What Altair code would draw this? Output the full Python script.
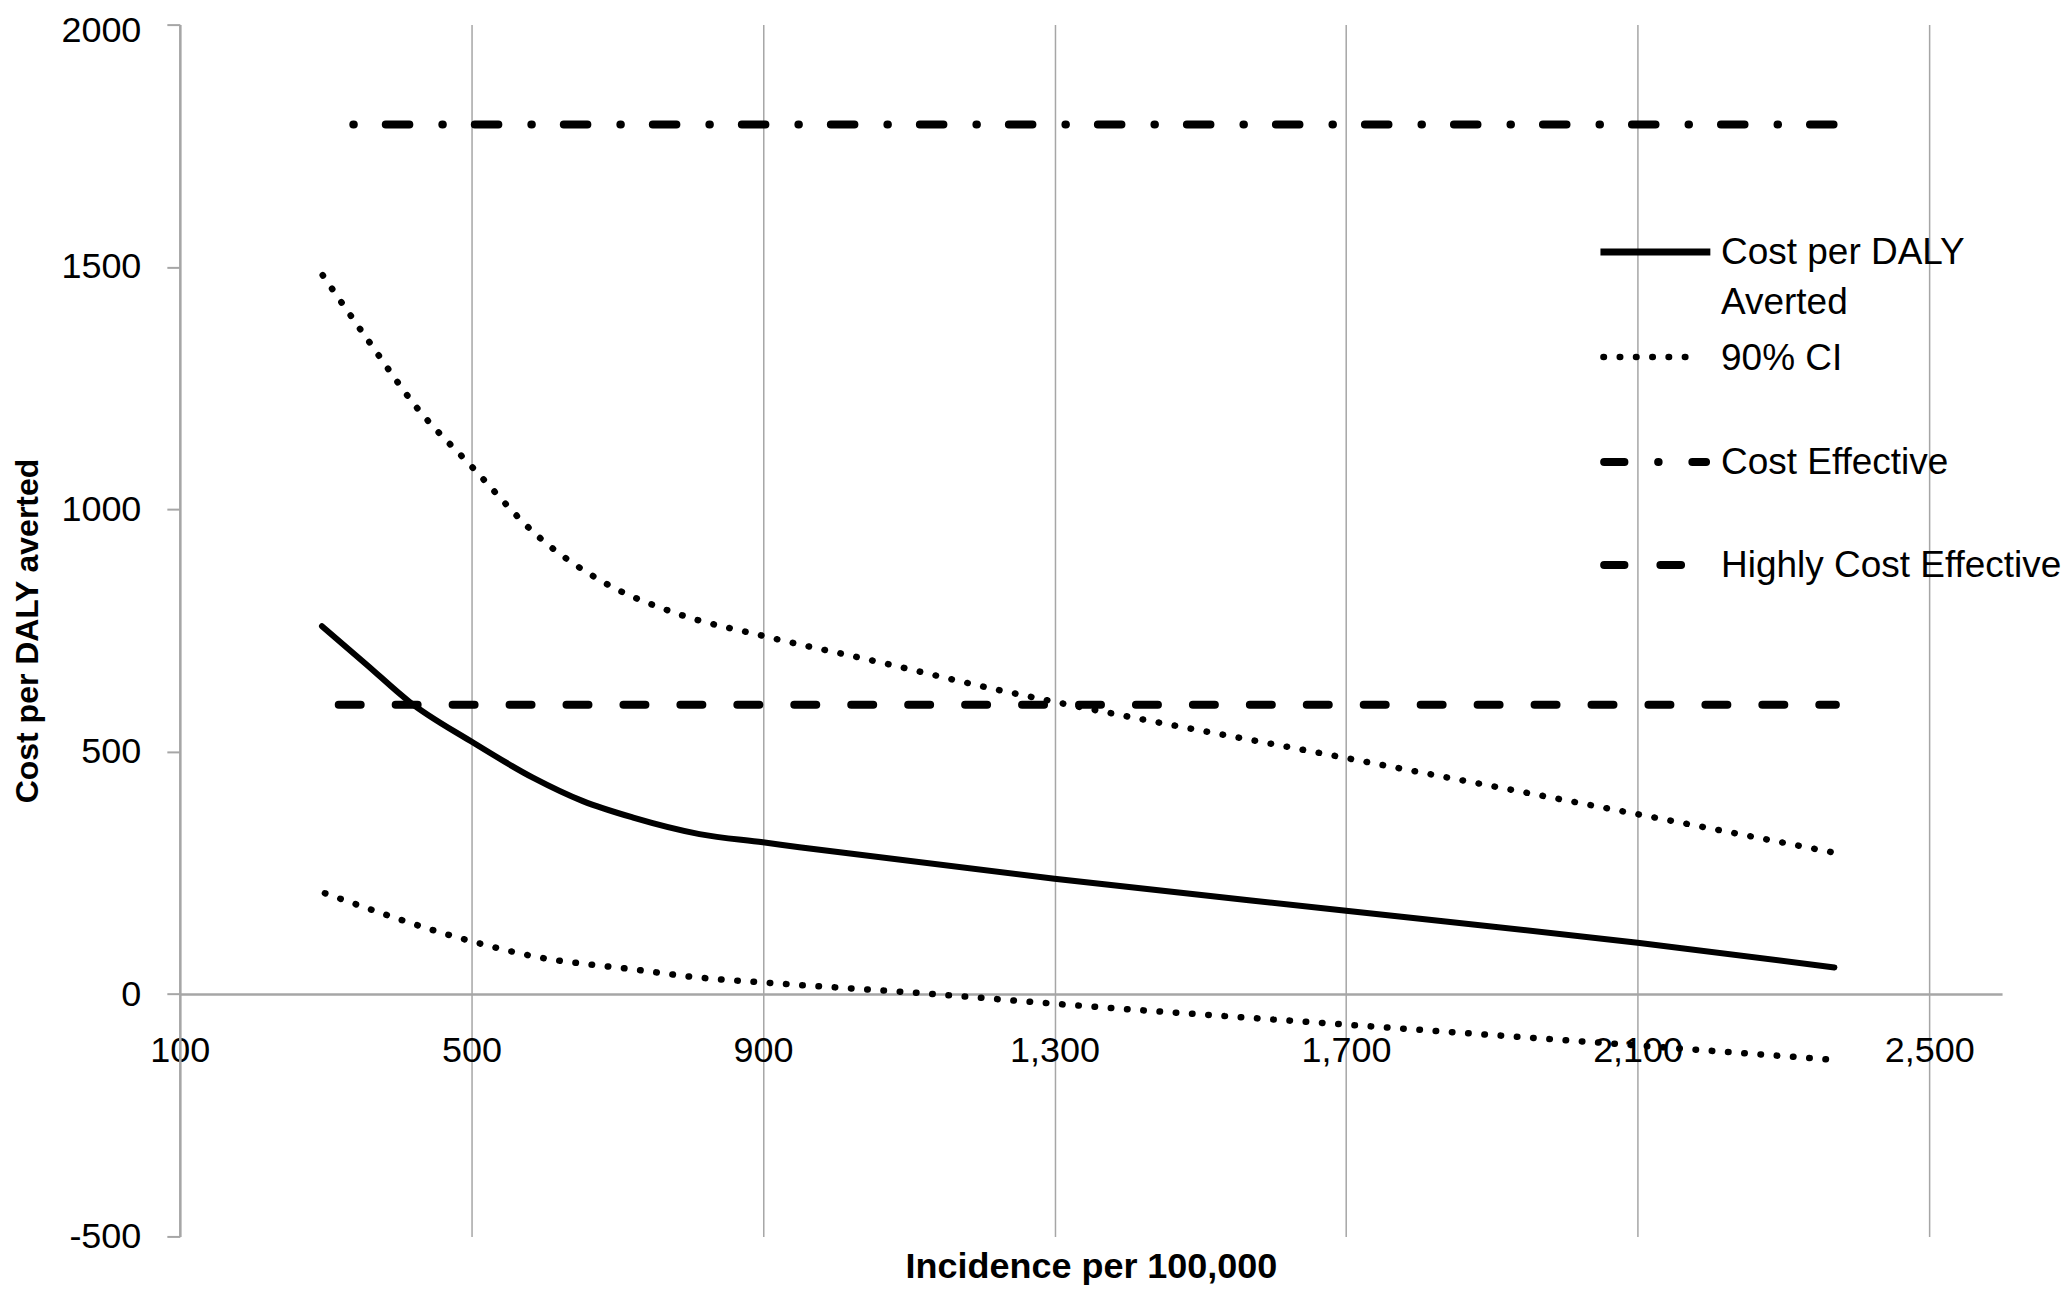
import altair as alt
import pandas as pd

FONT = "Liberation Sans, Arial, sans-serif"

# ---- data ----
x_ticks = [100, 500, 900, 1300, 1700, 2100, 2500]
y_ticks = [-500, 0, 500, 1000, 1500, 2000]

cost_x = [295, 356, 415, 500, 585, 653, 722, 813, 900, 950, 1300, 1700, 2100, 2370]
cost_y = [759, 680, 603, 521, 446, 398, 364, 330, 313, 303, 238, 172, 106, 55]

ci_upper_x = [296, 360, 425, 500, 591, 682, 784, 900, 1062, 1215, 1300, 1700, 2100, 2372]
ci_upper_y = [1483, 1345, 1210, 1089, 945, 849, 784, 739, 684, 630, 603, 487, 371, 291]

ci_lower_x = [299, 500, 585, 722, 813, 900, 1134, 1300, 1700, 2100, 2372]
ci_lower_y = [208, 109, 78, 51, 34, 24, 0, -20, -63, -106, -136]

ce_x = [338, 2372]
ce_y = [1794, 1794]

hce_x = [318, 2372]
hce_y = [597, 597]

legend_labels = ["Cost per DALY\nAverted", "90% CI", "Cost Effective", "Highly Cost Effective"]

GRAY = "#a6a6a6"

x_enc = alt.X(
    "x:Q",
    scale=alt.Scale(domain=[100, 2600], nice=False, zero=False),
    axis=alt.Axis(
        values=x_ticks, format=",.0f", grid=True, gridColor=GRAY, gridWidth=1.5,
        ticks=False, tickSize=0, domainColor=GRAY, domainWidth=2.5,
        offset=-242.6, labelFont=FONT, labelFontSize=36, labelColor="#000",
        labelPadding=68, labelBaseline="alphabetic", labelFlush=False,
        labelOverlap=False,
        title="Incidence per 100,000", titleFont=FONT, titleFontSize=36,
        titleFontWeight="bold", titleColor="#000", titleY=284,
        titleBaseline="alphabetic",
    ),
)
y_enc = alt.Y(
    "y:Q",
    scale=alt.Scale(domain=[-500, 2000], nice=False, zero=False),
    axis=alt.Axis(
        values=y_ticks, format="d", grid=False, ticks=True, tickSize=13,
        tickColor=GRAY, tickWidth=2, domainColor=GRAY, domainWidth=2.5,
        labelFont=FONT, labelFontSize=36, labelColor="#000", labelPadding=26,
        labelOverlap=False,
        labelOffset={"condition": {"test": "datum.value == 2000", "value": 6}, "value": 0},
        labelExpr="replace(datum.label, '\u2212', '-')",
        title="Cost per DALY averted", titleFont=FONT, titleFontSize=32,
        titleFontWeight="bold", titleColor="#000", titleX=-142,
        titleBaseline="alphabetic",
    ),
)


def series(xs, ys, **mark):
    df = pd.DataFrame({"x": xs, "y": ys})
    return alt.Chart(df).mark_line(color="black", **mark).encode(x=x_enc, y=y_enc)


DOT = [0.5, 15.8]
DASH = [22, 35]
DASHDOT = [0.5, 32, 23.6, 33]

lines = [
    series(ce_x, ce_y, strokeWidth=8, strokeDash=DASHDOT, strokeCap="round"),
    series(hce_x, hce_y, strokeWidth=8, strokeDash=DASH, strokeCap="round"),
    series(ci_upper_x, ci_upper_y, strokeWidth=6.5, strokeDash=DOT,
           strokeCap="round", interpolate="monotone"),
    series(ci_lower_x, ci_lower_y, strokeWidth=6.5, strokeDash=DOT,
           strokeCap="round", interpolate="monotone"),
    series(cost_x, cost_y, strokeWidth=6, strokeCap="round", interpolate="monotone"),
]


# ---- legend (drawn inside the plot, top right) ----
def leg_line(x1, x2, y, width, dash=None, cap="round"):
    kw = dict(color="black", strokeWidth=width, strokeCap=cap)
    if dash is not None:
        kw["strokeDash"] = dash
    return alt.Chart(pd.DataFrame({"k": [0]})).mark_rule(**kw).encode(
        x=alt.value(x1), x2=alt.value(x2), y=alt.value(y)
    )


TOP = 16  # plot top offset inside svg padding


def leg_text(label, y):
    return alt.Chart(pd.DataFrame({"label": [label]})).mark_text(
        align="left", baseline="alphabetic", font=FONT, fontSize=37,
        color="black", lineBreak="\n", lineHeight=50,
    ).encode(x=alt.value(1542.7), y=alt.value(y), text="label:N")


# legend y values are relative to the plot top (page y 24)
legend = [
    leg_line(1422, 1532, 227.7, 7, cap="butt"),
    leg_line(1425, 1520, 332.7, 6.5, DOT),
    leg_line(1425.7, 1527.7, 437.7, 8, [20.3, 33.75, 0.5, 33.75, 30]),
    leg_line(1425.7, 1502.7, 541, 8, [20.3, 36, 30]),
    leg_text(legend_labels[0], 240),
    leg_text(legend_labels[1], 346),
    leg_text(legend_labels[2], 450),
    leg_text(legend_labels[3], 552.7),
]

chart = alt.layer(*lines, *legend).properties(
    width=1824,
    height=1213,
    padding={"left": 172, "top": TOP, "right": 60, "bottom": 48},
    autosize=alt.AutoSizeParams(type="none"),
    background="white",
).configure_view(stroke=None)

chart.save("out.html", embed_options={"renderer": "svg", "actions": False})
